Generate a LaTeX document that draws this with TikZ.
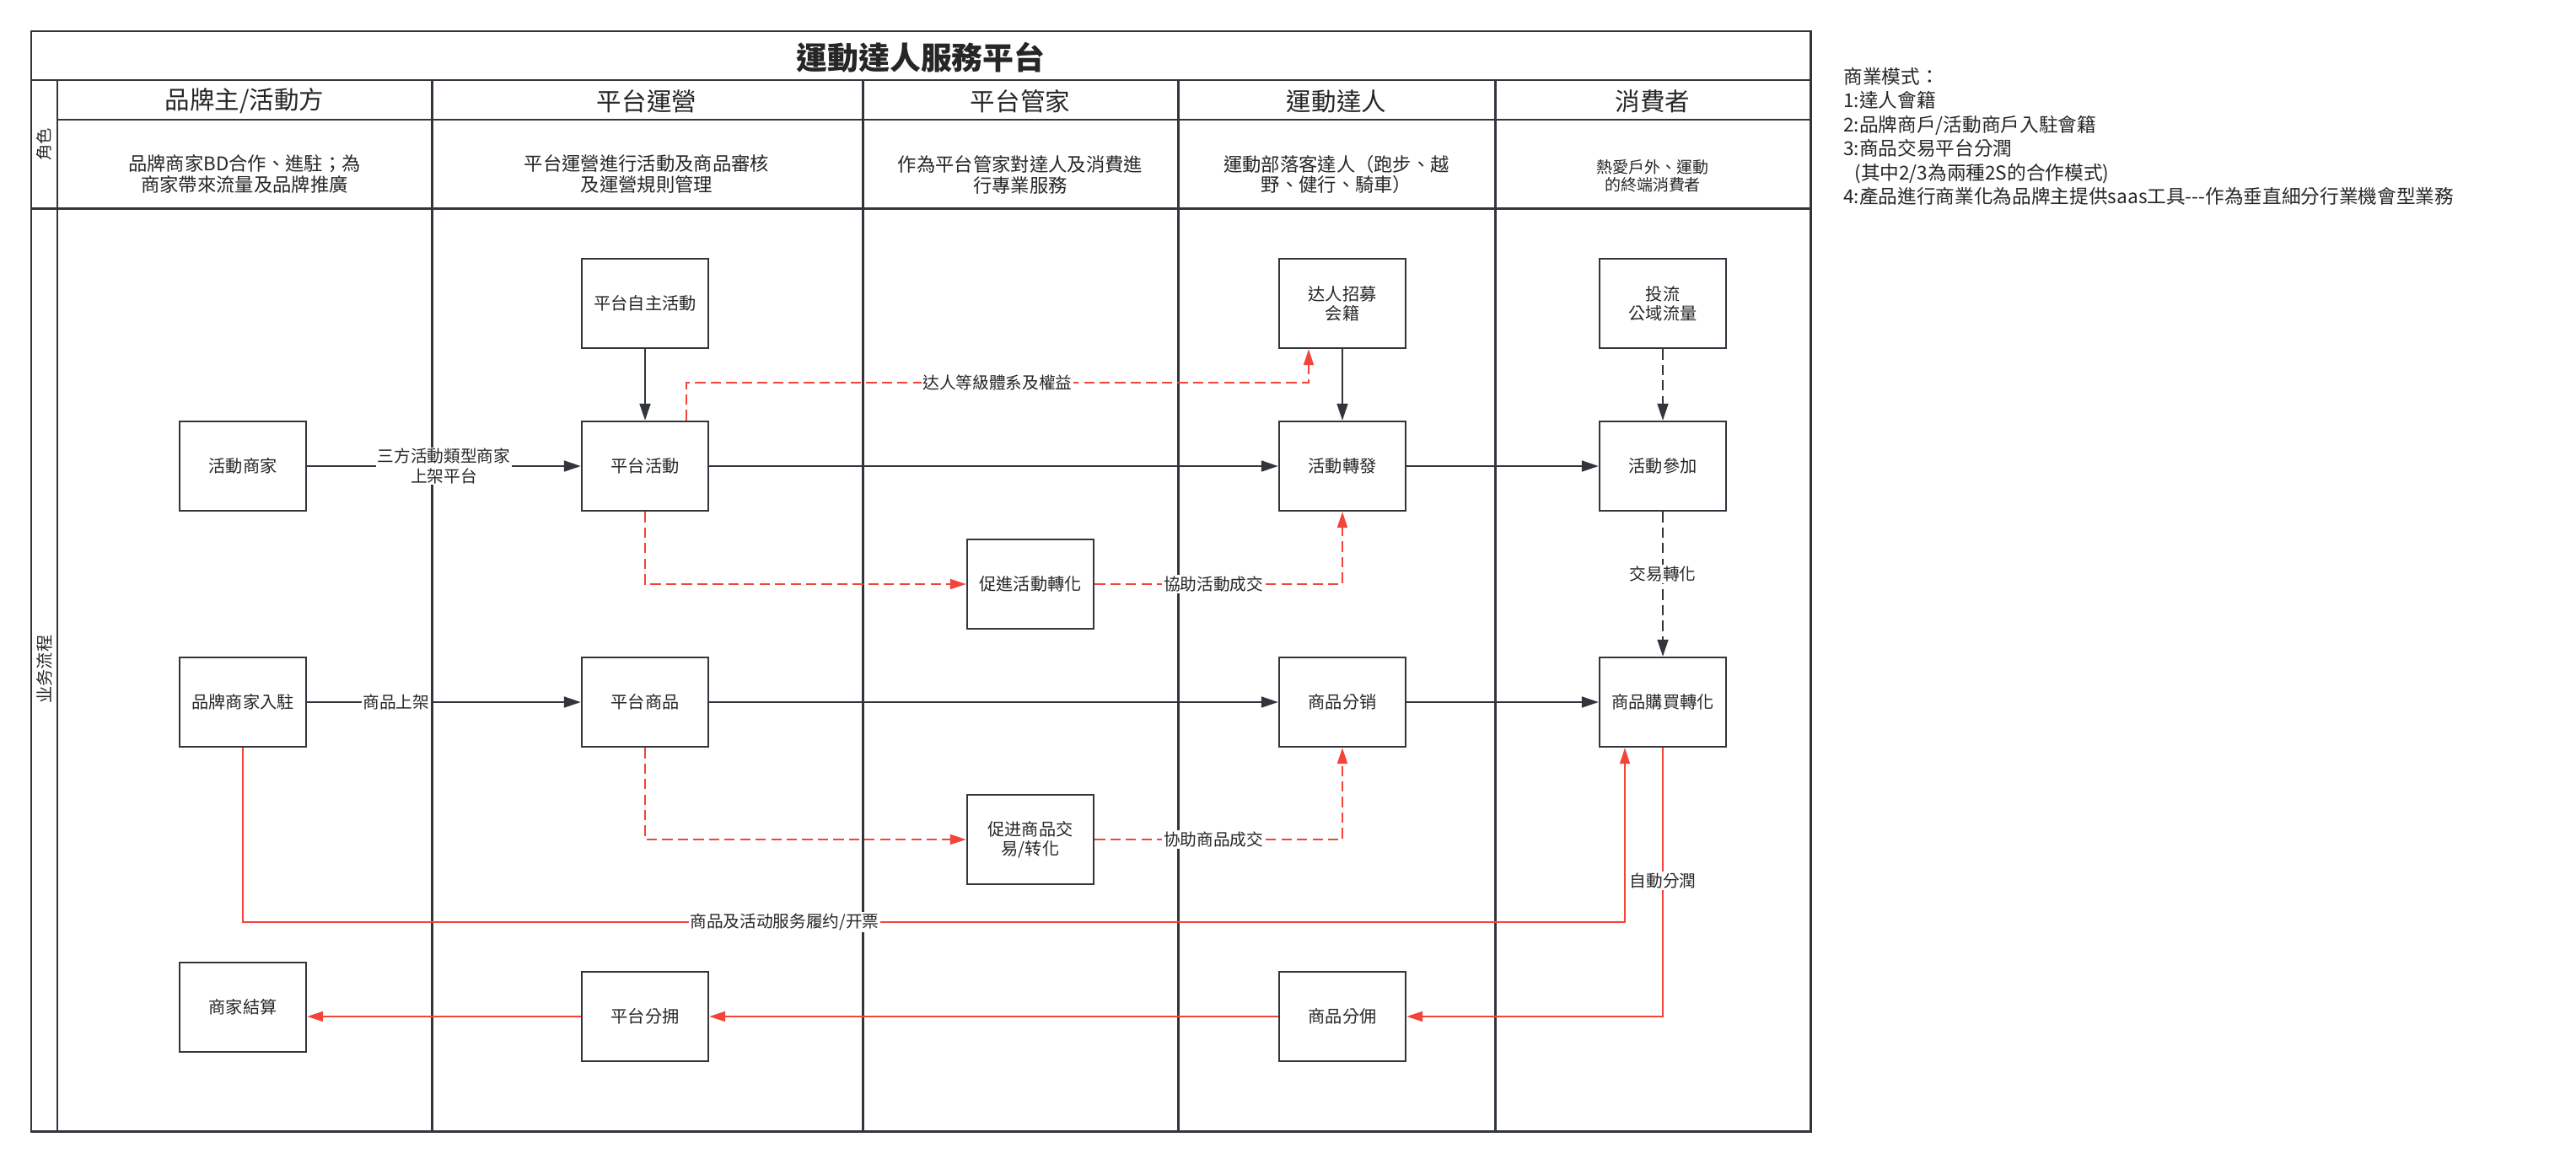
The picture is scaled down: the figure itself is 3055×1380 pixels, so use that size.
\documentclass[tikz,border=0pt]{standalone}
\usepackage{fontspec}
\setmainfont{Noto Sans CJK TC}
\usepackage{tikz}
\usetikzlibrary{arrows.meta,positioning}
\definecolor{ink}{RGB}{50,54,60}
\definecolor{flowred}{RGB}{242,68,56}
\definecolor{txt}{RGB}{38,38,38}

\begin{document}
\begin{tikzpicture}[x=0.02cm, y=-0.02cm,
  lane/.style={draw=ink, line width=1.7pt},
  box/.style={draw=ink, line width=1.4pt, fill=white, text=txt,
    minimum width=3cm, minimum height=2.12cm, inner sep=2pt,
    align=center, font=\fontsize{11.5}{13.2}\selectfont},
  flow/.style={draw=ink, line width=1.1pt,
    -{Triangle[length=0.4cm,width=0.26cm]}},
  redflow/.style={draw=flowred, line width=1.1pt,
    -{Triangle[length=0.38cm,width=0.24cm]}},
  reddash/.style={redflow, dash pattern=on 7pt off 3.5pt},
  tag/.style={fill=white, inner sep=1pt, align=center, text=txt,
    font=\fontsize{11.2}{13.2}\selectfont},
  head/.style={text=txt, font=\fontsize{16.8}{20}\selectfont},
  role/.style={text=txt, align=center, font=\fontsize{12.7}{14.2}\selectfont}]
  \useasboundingbox (0,0) rectangle (3055,1380);
  % Cadre et couloirs
  \draw[lane] (37,37) rectangle (2147,1342);
  \draw[lane] (37,95) -- (2147,95);
  \draw[lane] (68,142) -- (2147,142);
  \draw[lane] (37,247) -- (2147,247);
  \draw[lane] (68,95) -- (68,1342);
  \draw[lane] (512,95) -- (512,1342);
  \draw[lane] (1023,95) -- (1023,1342);
  \draw[lane] (1397,95) -- (1397,1342);
  \draw[lane] (1773,95) -- (1773,1342);
  % Titre
  \node[text=txt, font=\bfseries\fontsize{21}{24}\selectfont] (title) at (1092,68)
    {運動達人服務平台};
  \node[rotate=90, text=txt, font=\fontsize{11}{13}\selectfont] (rolelbl) at (52.5,171) {角色};
  \node[rotate=90, text=txt, font=\fontsize{11.5}{13}\selectfont] (proclbl) at (52.5,794) {业务流程};
  % En-tetes
  \node[head] (hbrand) at (290,120) {品牌主/活動方};
  \node[head] (hops) at (767,120) {平台運營};
  \node[head] (hbutler) at (1210,120) {平台管家};
  \node[head] (hkol) at (1585,120) {運動達人};
  \node[head] (hcons) at (1960,120) {消費者};
  % Roles
  \node[role] (rbrand) at (290,207) {品牌商家BD合作、進駐；為\\商家帶來流量及品牌推廣};
  \node[role] (rops) at (767,207) {平台運營進行活動及商品審核\\及運營規則管理};
  \node[role] (rbutler) at (1210,207) {作為平台管家對達人及消費進\\行專業服務};
  \node[role] (rkol) at (1585,207) {運動部落客達人（跑步、越\\野、健行、騎車）};
  \node[role, font=\fontsize{10.8}{11.8}\selectfont] (rcons) at (1960,209)
    {熱愛戶外、運動\\的終端消費者};
  % Etapes
  \node[box] (zizhu) at (765,360) {平台自主活動};
  \node[box] (zhaomu) at (1592,360) {达人招募\\会籍};
  \node[box] (touliu) at (1972,360) {投流\\公域流量};
  \node[box] (shangjia) at (288,553) {活動商家};
  \node[box] (pthd) at (765,553) {平台活動};
  \node[box] (zhuanfa) at (1592,553) {活動轉發};
  \node[box] (canjia) at (1972,553) {活動參加};
  \node[box] (cujinhd) at (1222,693) {促進活動轉化};
  \node[box] (ruzhu) at (288,833) {品牌商家入駐};
  \node[box] (ptsp) at (765,833) {平台商品};
  \node[box] (fenxiao) at (1592,833) {商品分销};
  \node[box] (goumai) at (1972,833) {商品購買轉化};
  \node[box] (cujinsp) at (1222,996) {促进商品交\\易/转化};
  \node[box] (jiesuan) at (288,1195) {商家結算};
  \node[box] (ptfy) at (765,1206) {平台分拥};
  \node[box] (spfy) at (1592,1206) {商品分佣};
  % Flux noirs
  \draw[flow] (zizhu) -- (pthd);
  \draw[flow] (zhaomu) -- (zhuanfa);
  \draw[flow, dash pattern=on 7pt off 3.5pt] (touliu) -- (canjia);
  \draw[flow] (shangjia) -- node[tag] {三方活動類型商家\\上架平台} (pthd);
  \draw[flow] (pthd) -- (zhuanfa);
  \draw[flow] (zhuanfa) -- (canjia);
  \draw[flow, dash pattern=on 7pt off 3.5pt] (canjia) -- node[tag, pos=0.43] {交易轉化} (goumai);
  \draw[flow] (ruzhu) -- node[tag, pos=0.325] {商品上架} (ptsp);
  \draw[flow] (ptsp) -- (fenxiao);
  \draw[flow] (fenxiao) -- (goumai);
  % Flux rouges
  \draw[reddash] ([xshift=0.98cm]pthd.north) -- ++(0,-45)
    -| node[tag, pos=0.25] {达人等級體系及權益} ([xshift=-0.8cm]zhaomu.south);
  \draw[reddash] (pthd.south) |- (cujinhd.west);
  \draw[reddash] (cujinhd.east) -| node[tag, pos=0.24] {協助活動成交} (zhuanfa.south);
  \draw[reddash] (ptsp.south) |- (cujinsp.west);
  \draw[reddash] (cujinsp.east) -| node[tag, pos=0.24] {协助商品成交} (fenxiao.south);
  \draw[redflow] (ruzhu.south) -- ++(0,207)
    -| node[tag, pos=0.196] {商品及活动服务履约/开票} ([xshift=-0.9cm]goumai.south);
  \draw[redflow] (goumai.south) |- node[tag, pos=0.248] {自動分潤} (spfy.east);
  \draw[redflow] (spfy) -- (ptfy);
  \draw[redflow] (ptfy.west) -- (ptfy.west -| jiesuan.east);
  % Modele d'affaires
  \node[anchor=north west, align=left, inner sep=0pt, text=txt,
    font=\fontsize{12.9}{16.2}\selectfont] (model) at (2186,80)
    {商業模式：\\1:達人會籍\\2:品牌商戶/活動商戶入駐會籍\\3:商品交易平台分潤\\
     \hspace*{0.26cm}(其中2/3為兩種2S的合作模式)\\
     4:產品進行商業化為品牌主提供saas工具-{}-{}-作為垂直細分行業機會型業務};
\end{tikzpicture}
\end{document}
